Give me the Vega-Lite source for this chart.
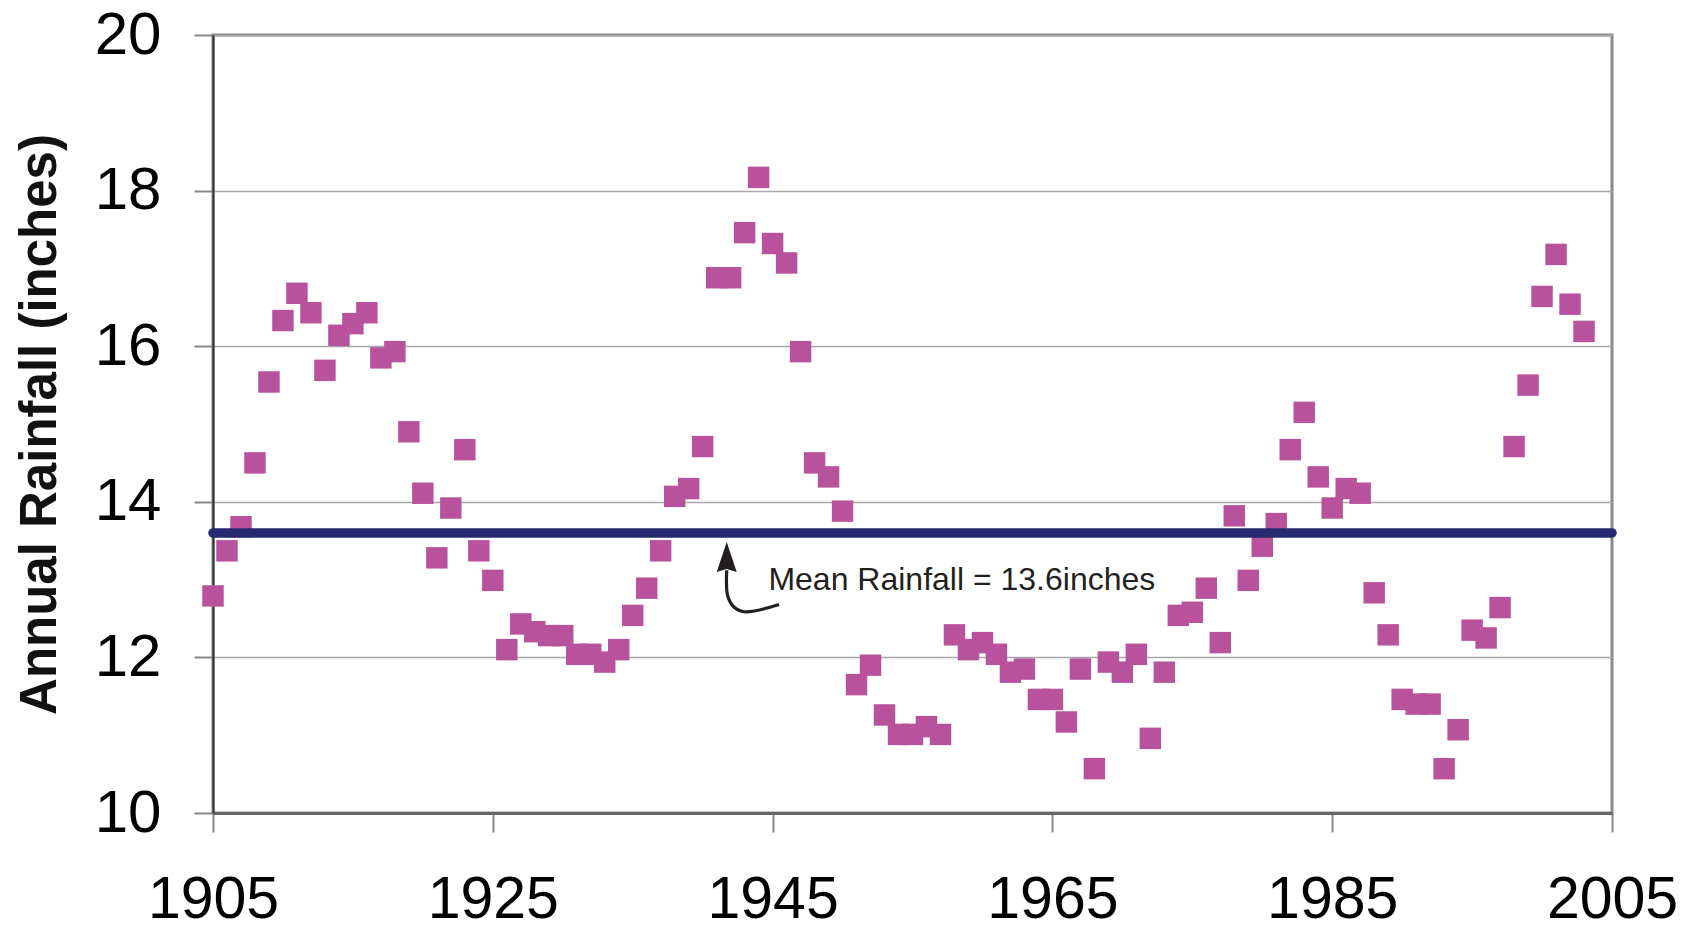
{
  "$schema": "https://vega.github.io/schema/vega-lite/v6.json",
  "width": 1399,
  "height": 778,
  "autosize": "none",
  "padding": {"left": 213, "top": 35, "right": 83, "bottom": 118},
  "background": "white",
  "config": {
    "view": {"stroke": "#8a8a8a", "strokeWidth": 3},
    "font": "Liberation Sans"
  },
  "datasets": {
    "rain": [
      {"year": 1905, "rain": 12.79}, {"year": 1906, "rain": 13.37}, {"year": 1907, "rain": 13.68}, {"year": 1908, "rain": 14.5},
      {"year": 1909, "rain": 15.54}, {"year": 1910, "rain": 16.33}, {"year": 1911, "rain": 16.68}, {"year": 1912, "rain": 16.43},
      {"year": 1913, "rain": 15.69}, {"year": 1914, "rain": 16.14}, {"year": 1915, "rain": 16.29}, {"year": 1916, "rain": 16.43},
      {"year": 1917, "rain": 15.85}, {"year": 1918, "rain": 15.93}, {"year": 1919, "rain": 14.9}, {"year": 1920, "rain": 14.11},
      {"year": 1921, "rain": 13.28}, {"year": 1922, "rain": 13.92}, {"year": 1923, "rain": 14.67}, {"year": 1924, "rain": 13.37},
      {"year": 1925, "rain": 12.99}, {"year": 1926, "rain": 12.1}, {"year": 1927, "rain": 12.43}, {"year": 1928, "rain": 12.33},
      {"year": 1929, "rain": 12.28}, {"year": 1930, "rain": 12.28}, {"year": 1931, "rain": 12.04}, {"year": 1932, "rain": 12.04},
      {"year": 1933, "rain": 11.94}, {"year": 1934, "rain": 12.1}, {"year": 1935, "rain": 12.54}, {"year": 1936, "rain": 12.89},
      {"year": 1937, "rain": 13.37}, {"year": 1938, "rain": 14.07}, {"year": 1939, "rain": 14.17}, {"year": 1940, "rain": 14.71},
      {"year": 1941, "rain": 16.88}, {"year": 1942, "rain": 16.88}, {"year": 1943, "rain": 17.46}, {"year": 1944, "rain": 18.17},
      {"year": 1945, "rain": 17.32}, {"year": 1946, "rain": 17.07}, {"year": 1947, "rain": 15.93}, {"year": 1948, "rain": 14.5},
      {"year": 1949, "rain": 14.32}, {"year": 1950, "rain": 13.88}, {"year": 1951, "rain": 11.65}, {"year": 1952, "rain": 11.9},
      {"year": 1953, "rain": 11.26}, {"year": 1954, "rain": 11.01}, {"year": 1955, "rain": 11.01}, {"year": 1956, "rain": 11.11},
      {"year": 1957, "rain": 11.01}, {"year": 1958, "rain": 12.29}, {"year": 1959, "rain": 12.1}, {"year": 1960, "rain": 12.19},
      {"year": 1961, "rain": 12.04}, {"year": 1962, "rain": 11.81}, {"year": 1963, "rain": 11.85}, {"year": 1964, "rain": 11.46},
      {"year": 1965, "rain": 11.46}, {"year": 1966, "rain": 11.17}, {"year": 1967, "rain": 11.85}, {"year": 1968, "rain": 10.57},
      {"year": 1969, "rain": 11.94}, {"year": 1970, "rain": 11.81}, {"year": 1971, "rain": 12.04}, {"year": 1972, "rain": 10.96},
      {"year": 1973, "rain": 11.81}, {"year": 1974, "rain": 12.54}, {"year": 1975, "rain": 12.58}, {"year": 1976, "rain": 12.89},
      {"year": 1977, "rain": 12.19}, {"year": 1978, "rain": 13.82}, {"year": 1979, "rain": 12.99}, {"year": 1980, "rain": 13.43},
      {"year": 1981, "rain": 13.72}, {"year": 1982, "rain": 14.67}, {"year": 1983, "rain": 15.15}, {"year": 1984, "rain": 14.32},
      {"year": 1985, "rain": 13.92}, {"year": 1986, "rain": 14.17}, {"year": 1987, "rain": 14.11}, {"year": 1988, "rain": 12.83},
      {"year": 1989, "rain": 12.29}, {"year": 1990, "rain": 11.46}, {"year": 1991, "rain": 11.4}, {"year": 1992, "rain": 11.4},
      {"year": 1993, "rain": 10.57}, {"year": 1994, "rain": 11.07}, {"year": 1995, "rain": 12.35}, {"year": 1996, "rain": 12.25},
      {"year": 1997, "rain": 12.64}, {"year": 1998, "rain": 14.71}, {"year": 1999, "rain": 15.5}, {"year": 2000, "rain": 16.64},
      {"year": 2001, "rain": 17.18}, {"year": 2002, "rain": 16.54}, {"year": 2003, "rain": 16.19}
    ],
    "curve": [
      {"o": 1, "year": 1941.72, "rain": 13.12},
      {"o": 2, "year": 1941.78, "rain": 12.8},
      {"o": 3, "year": 1942.17, "rain": 12.66},
      {"o": 4, "year": 1942.85, "rain": 12.59},
      {"o": 5, "year": 1943.8, "rain": 12.6},
      {"o": 6, "year": 1945.46, "rain": 12.68}
    ],
    "head": [{"year": 1941.72, "rain": 13.29}],
    "note": [{"year": 1944.7, "rain": 12.86, "label": "Mean Rainfall = 13.6inches"}],
    "mean": [{"rain": 13.6}]
  },
  "layer": [
    {
      "data": {"name": "rain"},
      "mark": {"type": "square", "size": 460, "color": "#b9529d", "opacity": 1},
      "encoding": {
        "x": {
          "field": "year", "type": "quantitative",
          "scale": {"domain": [1905, 2005], "nice": false, "zero": false},
          "axis": {
            "values": [1905, 1925, 1945, 1965, 1985, 2005], "format": "d", "title": null,
            "grid": false, "tickSize": 19, "tickColor": "#888", "tickWidth": 2,
            "labelFontSize": 59, "labelPadding": 38, "labelColor": "#000",
            "labelFlush": false, "labelOverlap": false,
            "domainColor": "#666", "domainWidth": 3
          }
        },
        "y": {
          "field": "rain", "type": "quantitative",
          "scale": {"domain": [10, 20], "nice": false, "zero": false},
          "axis": {
            "values": [10, 12, 14, 16, 18, 20], "format": "d", "title": "Annual Rainfall (inches)",
            "titleFontSize": 51, "titleFontWeight": "bold", "titleColor": "#111", "titlePadding": 28,
            "grid": true, "gridColor": "#a8a8a8", "gridWidth": 1.5,
            "tickSize": 19, "tickColor": "#888", "tickWidth": 2,
            "labelFontSize": 60, "labelPadding": 33, "labelColor": "#000",
            "labelFlush": false, "labelOverlap": false,
            "domainColor": "#333", "domainWidth": 2
          }
        }
      }
    },
    {
      "data": {"name": "mean"},
      "mark": {"type": "rule", "color": "#262a73", "strokeWidth": 9.5, "strokeCap": "round"},
      "encoding": {"y": {"field": "rain", "type": "quantitative"}}
    },
    {
      "data": {"name": "curve"},
      "mark": {"type": "line", "interpolate": "catmull-rom", "color": "#231f20", "strokeWidth": 3.2},
      "encoding": {
        "x": {"field": "year", "type": "quantitative"},
        "y": {"field": "rain", "type": "quantitative"},
        "order": {"field": "o", "type": "quantitative"}
      }
    },
    {
      "data": {"name": "head"},
      "mark": {"type": "point", "shape": "M0,-1L0.667,1L0,0.8L-0.667,1Z", "size": 900, "filled": true, "color": "#231f20", "opacity": 1},
      "encoding": {
        "x": {"field": "year", "type": "quantitative"},
        "y": {"field": "rain", "type": "quantitative"}
      }
    },
    {
      "data": {"name": "note"},
      "mark": {"type": "text", "align": "left", "baseline": "alphabetic", "fontSize": 32, "color": "#231f20", "font": "Liberation Sans"},
      "encoding": {
        "x": {"field": "year", "type": "quantitative"},
        "y": {"field": "rain", "type": "quantitative"},
        "text": {"field": "label"}
      }
    }
  ]
}
